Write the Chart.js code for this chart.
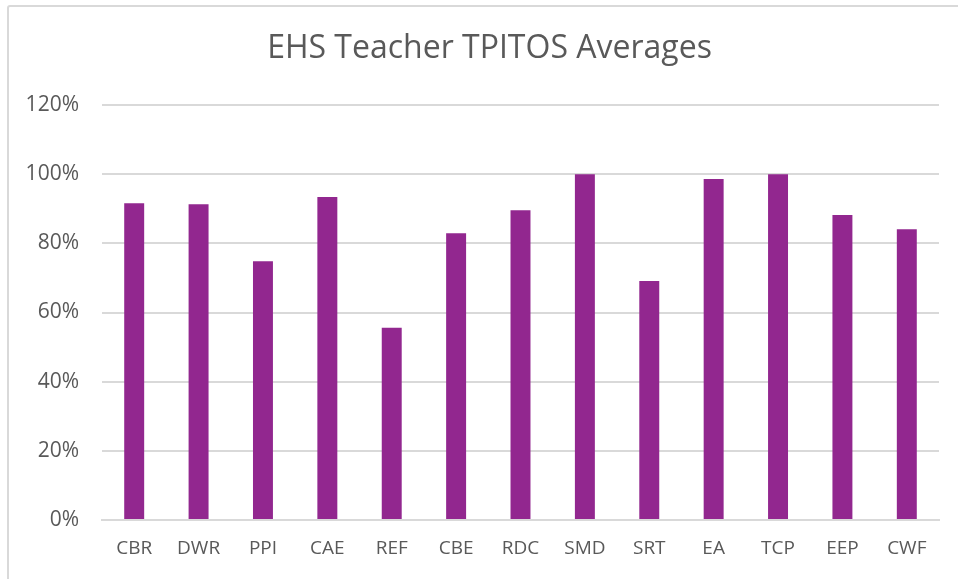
<!DOCTYPE html>
<html>
<head>
<meta charset="utf-8">
<script src="https://cdn.jsdelivr.net/npm/chart.js@4"></script>
<style>
html,body{margin:0;padding:0;background:#fff;width:958px;height:579px;overflow:hidden;}
#wrap{position:absolute;left:0;top:0;width:958px;height:579px;}
#frame{position:absolute;left:7px;top:5px;width:960px;height:580px;border:2px solid #d9d9d9;border-radius:3px;pointer-events:none;}
</style>
</head>
<body>
<div id="wrap"><canvas id="c" width="958" height="579"></canvas></div>
<div id="frame"></div>
<script>
const categories = ["CBR","DWR","PPI","CAE","REF","CBE","RDC","SMD","SRT","EA","TCP","EEP","CWF"];
const averages = [91.6, 91.3, 74.8, 93.4, 55.6, 82.9, 89.6, 100, 69.1, 98.6, 100, 88.2, 84.1];
const yTicks = [0, 20, 40, 60, 80, 100, 120];
const titleText = "EHS Teacher TPITOS Averages";

const FONT = "'Open Sans', 'Liberation Sans', sans-serif";

const shiftTitle = {
  id: 'shiftTitle',
  afterLayout(chart) {
    const t = chart.titleBlock;
    if (t) { t.left = 40; t.right = 939; t.width = 899; }
  }
};

new Chart(document.getElementById('c'), {
  type: 'bar',
  data: {
    labels: categories,
    datasets: [{
      data: averages,
      backgroundColor: '#92278F',
      borderWidth: 0,
      categoryPercentage: 1,
      barPercentage: 0.31
    }]
  },
  plugins: [shiftTitle],
  options: {
    responsive: false,
    animation: false,
    layout: { padding: { left: 0, right: 19, top: 0, bottom: 0 } },
    plugins: {
      legend: { display: false },
      tooltip: { enabled: false },
      title: {
        display: true,
        text: titleText,
        color: '#595959',
        font: { family: FONT, size: 32, weight: 'normal' },
        lineHeight: 1.2,
        padding: { top: 30, bottom: 36.6 }
      }
    },
    scales: {
      x: {
        grid: { display: false, drawTicks: false },
        border: { display: true, color: '#d9d9d9', width: 2 },
        ticks: { color: '#595959', font: { family: FONT, size: 19 }, padding: 17, maxRotation: 0 },
        afterFit: s => { s.height = 59; }
      },
      y: {
        min: 0, max: 120,
        afterBuildTicks: s => { s.ticks = yTicks.map(v => ({ value: v })); },
        grid: { color: '#d9d9d9', lineWidth: 2, drawTicks: false },
        border: { display: false },
        ticks: { color: '#595959', font: { family: FONT, size: 21 }, padding: 23, callback: v => v + '%' },
        afterFit: s => { s.width = 102; }
      }
    }
  }
});
</script>
</body>
</html>
